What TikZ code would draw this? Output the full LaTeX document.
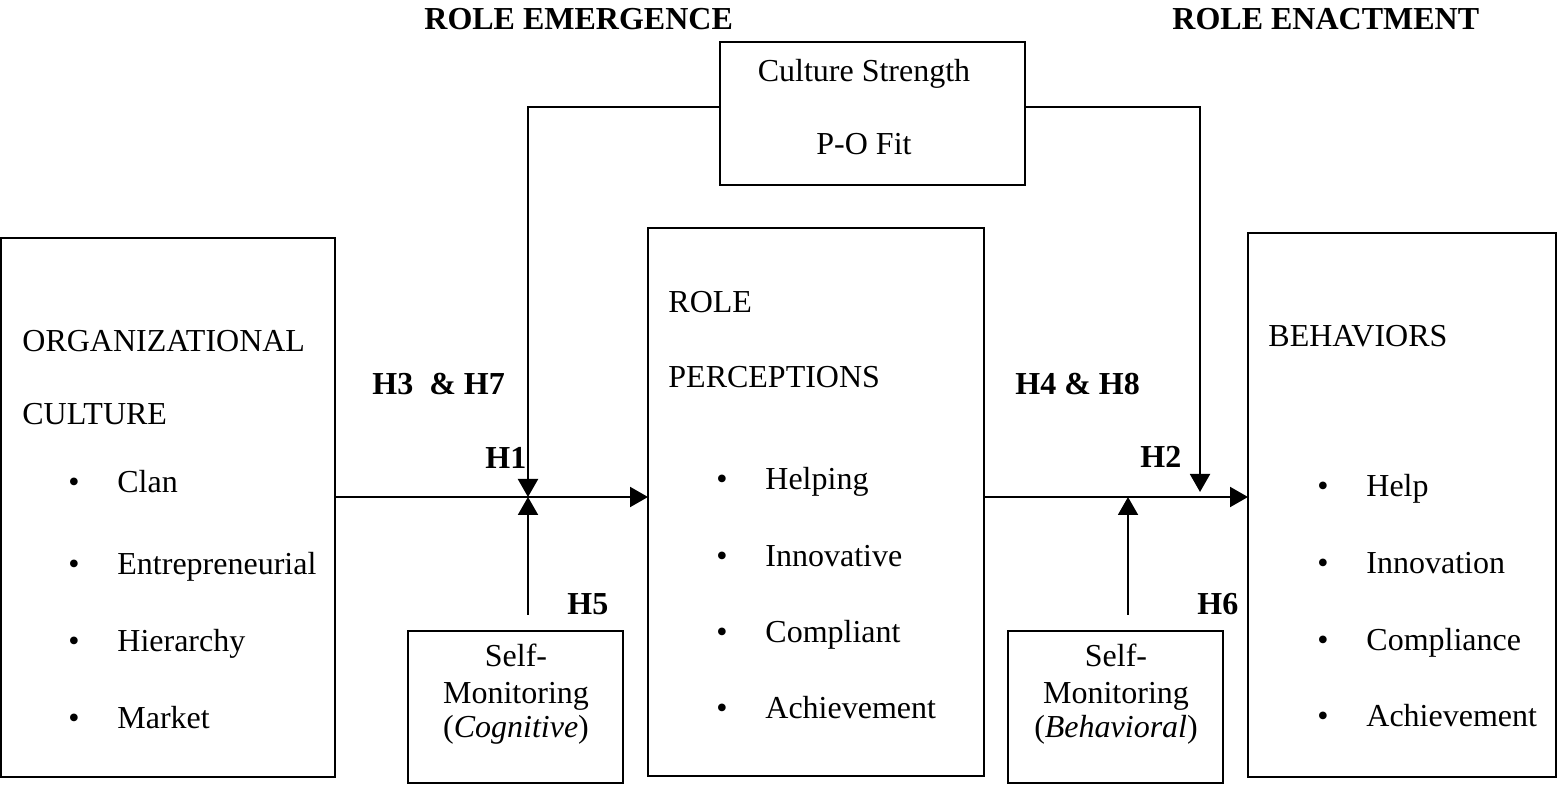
\documentclass[tikz,border=0pt]{standalone}
\usepackage{fontspec}
\setmainfont{Liberation Serif}
\usetikzlibrary{arrows.meta}
\begin{document}
\begin{tikzpicture}[x=0.5pt,y=-0.5pt,
  box/.style={draw, line width=1pt, inner sep=0pt, outer sep=0pt},
  txt/.style={font=\fontsize{16}{18}\selectfont, inner sep=0pt, anchor=base west},
  ctxt/.style={font=\fontsize{16}{18}\selectfont, inner sep=0pt, anchor=base},
  btxt/.style={font=\fontsize{16}{18}\selectfont\bfseries, inner sep=0pt, anchor=base west},
  arr/.style={line width=1pt, -{Triangle[length=9pt,width=10pt]}},
  ln/.style={line width=1pt}]
\useasboundingbox (0,0) rectangle (1558,785);
% boxes
\node[box, minimum width=167pt, minimum height=269.5pt] (oc) at (168,507.5) {};
\node[box, minimum width=168pt, minimum height=274pt] (rp) at (816,502) {};
\node[box, minimum width=154pt, minimum height=272pt] (bh) at (1402,505) {};
\node[box, minimum width=152.5pt, minimum height=71.5pt] (cs) at (872.5,113.5) {};
\node[box, minimum width=107.5pt, minimum height=76pt] (smc) at (515.5,707) {};
\node[box, minimum width=107.5pt, minimum height=76pt] (smb) at (1115.5,707) {};
% headings
\node[btxt] (h_em) at (424,30) {ROLE EMERGENCE};
\node[btxt] (h_en) at (1172,30) {ROLE ENACTMENT};
% culture strength
\node[ctxt] (cs1) at (864,82) {Culture Strength};
\node[ctxt] (cs2) at (864,155) {P-O Fit};
% organizational culture
\node[txt] (oc1) at (22,352) {ORGANIZATIONAL};
\node[txt] (oc2) at (22,425) {CULTURE};
\foreach \y/\t [count=\i] in {493/Clan,575/Entrepreneurial,652/Hierarchy,728/Market}{
  \node[ctxt] (ocb\i) at (74,\y) {•};
  \node[txt] (oct\i) at (117,\y) {\t};
}
% role perceptions
\node[txt] (rp1) at (668,313) {ROLE};
\node[txt] (rp2) at (668,388) {PERCEPTIONS};
\foreach \y/\t [count=\i] in {490/Helping,567/Innovative,642/Compliant,718/Achievement}{
  \node[ctxt] (rpb\i) at (722,\y) {•};
  \node[txt] (rpt\i) at (765,\y) {\t};
}
% behaviors
\node[txt] (bh1) at (1268,347) {BEHAVIORS};
\foreach \y/\t [count=\i] in {497/Help,574/Innovation,650/Compliance,726/Achievement}{
  \node[ctxt] (bhb\i) at (1323,\y) {•};
  \node[txt] (bht\i) at (1366,\y) {\t};
}
% self-monitoring boxes
\node[ctxt] (smc1) at (516,667) {Self-};
\node[ctxt] (smc2) at (516,703) {Monitoring};
\node[ctxt] (smc3) at (516,737) {(\textit{Cognitive})};
\node[ctxt] (smb1) at (1116,667) {Self-};
\node[ctxt] (smb2) at (1116,703) {Monitoring};
\node[ctxt] (smb3) at (1116,737) {(\textit{Behavioral})};
% hypothesis labels
\node[btxt] (h37) at (372,395) {H3\ \ \& H7};
\node[btxt] (h48) at (1015,395) {H4 \& H8};
\node[btxt] (h1) at (485,469) {H1};
\node[btxt] (h2) at (1140,468) {H2};
\node[btxt] (h5) at (567,615) {H5};
\node[btxt] (h6) at (1197,615) {H6};
% connectors
\coordinate (j1) at (528,497);
\coordinate (j2) at (1128,497);
\coordinate (k1) at (528,107);
\coordinate (k2) at (1200,107);
\coordinate (t2) at (1200,492);
\coordinate (u1) at (528,615);
\coordinate (u2) at (1128,615);
\draw[arr] (oc.east |- j1) -- (rp.west |- j1);
\draw[arr] (rp.east |- j2) -- (bh.west |- j2);
\draw[arr] (cs.west |- k1) -- (k1) -- (j1);
\draw[arr] (u1) -- (j1);
\draw[arr] (cs.east |- k2) -- (k2) -- (t2);
\draw[arr] (u2) -- (j2);
\end{tikzpicture}
\end{document}
